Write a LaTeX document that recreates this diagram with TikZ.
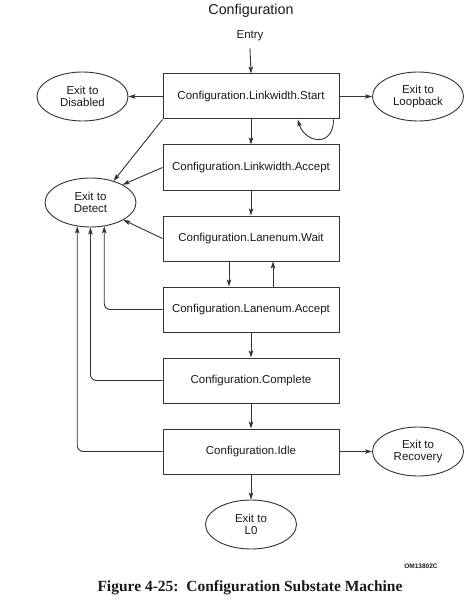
\documentclass[tikz,border=0pt]{standalone}
\usepackage{fontspec}
\setmainfont{Liberation Sans}
\newfontfamily\capfont{Liberation Serif}
\usetikzlibrary{shapes.geometric,arrows.meta}
\definecolor{ln}{HTML}{333333}
\definecolor{tx}{HTML}{1A1A1A}
\begin{document}
\begin{tikzpicture}[x=1pt,y=-1pt,
  stbox/.style={draw=ln,line width=1pt,fill=white,minimum width=176pt,minimum height=45pt,inner sep=0pt,text=tx,font=\fontsize{11.5}{12}\selectfont},
  exitell/.style={draw=ln,line width=0.9pt,ellipse,minimum width=91pt,minimum height=49pt,inner sep=0pt,align=center,text=tx,font=\fontsize{11.5}{12}\selectfont},
  arr/.style={draw=ln,line width=0.9pt,-{Stealth[length=7pt,width=4.5pt,inset=1.5pt]}},
  lbl/.style={text=tx,inner sep=0pt}]
\useasboundingbox (0,0) rectangle (474,604);
\fill[white] (0,0) rectangle (474,604);
\node[lbl,font=\fontsize{14.3}{16}\selectfont] (title) at (251,11) {Configuration};
\node[lbl,font=\fontsize{11.5}{12}\selectfont] (entry) at (250,36) {Entry};
\node[stbox] (S) at (251,96.5) {Configuration.Linkwidth.Start};
\node[stbox] (LA) at (251,167.5) {Configuration.Linkwidth.Accept};
\node[stbox] (W) at (251,238.5) {Configuration.Lanenum.Wait};
\node[stbox] (NA) at (251,309.5) {Configuration.Lanenum.Accept};
\node[stbox] (C) at (251,380.5) {Configuration.Complete};
\node[stbox] (I) at (251,451.5) {Configuration.Idle};
\node[exitell] (Dis) at (82.5,96.5) {Exit to\\Disabled};
\node[exitell] (Loop) at (418,96.5) {Exit to\\Loopback};
\node[exitell] (Det) at (90.5,202.5) {Exit to\\Detect};
\node[exitell] (Rec) at (418,451.5) {Exit to\\Recovery};
\node[exitell] (L0) at (251,524.5) {Exit to\\L0};
\node[lbl,font=\fontsize{6.5}{7}\selectfont\bfseries] (om) at (421,566) {OM13802C};
\node[lbl,font=\capfont\fontsize{15.5}{17}\selectfont\bfseries] (cap) at (250,588) {Figure 4-25:\ \ Configuration Substate Machine};
% arrows
\draw[arr] ([yshift=-7pt]entry.south) -- (S.north);
\draw[arr] (S.west) -- (Dis.east);
\draw[arr] (S.east) -- (Loop.west);
\draw[arr] (S.south) -- (LA.north);
\draw[arr] ([xshift=-6pt]S.south east) .. controls +(0,28) and +(8,24) .. ([xshift=-42pt]S.south east);
\draw[arr] (S.south west) -- (Det.43);
\draw[arr] (LA.west) -- (Det.29);
\draw[arr] (LA.south) -- (LA.south |- W.north);
\draw[arr] (W.west) -- (Det.-28);
\draw[arr] ([xshift=-22pt]W.south) -- ([xshift=-22pt]NA.north);
\draw[arr] ([xshift=22pt]NA.north) -- ([xshift=22pt]W.south);
\draw[arr,rounded corners=6pt] (NA.west) -| (Det.300);
\draw[arr,rounded corners=6pt] (C.west) -| (Det.south);
\draw[arr,rounded corners=6pt] (I.west) -| (Det.241);
\draw[arr] (NA.south) -- (C.north);
\draw[arr] (C.south) -- (I.north);
\draw[arr] (I.east) -- (Rec.west);
\draw[arr] (I.south) -- (L0.north);
\end{tikzpicture}
\end{document}
